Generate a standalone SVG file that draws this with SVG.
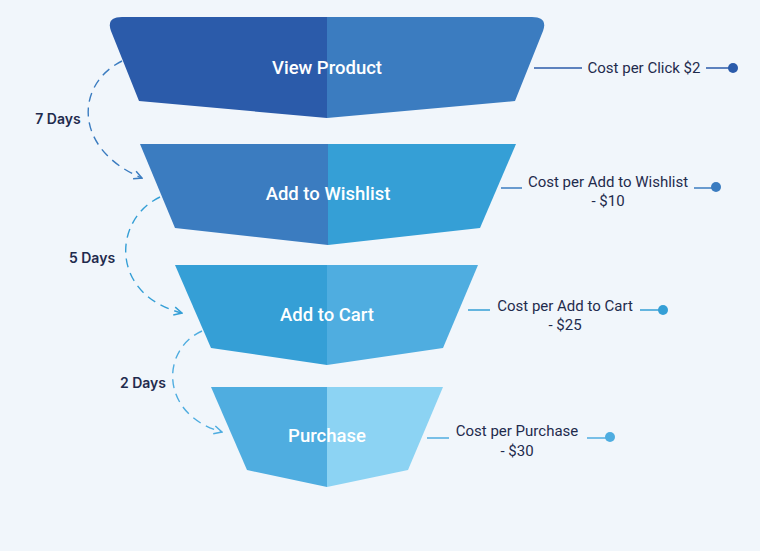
<svg xmlns="http://www.w3.org/2000/svg" width="760" height="551" viewBox="0 0 760 551">
<defs>
<style>
.stage{font-family:Roboto,"Liberation Sans",sans-serif;font-size:18.5px;font-weight:500;fill:#ffffff;text-anchor:middle}
.cost{font-family:Roboto,"Liberation Sans",sans-serif;font-size:15px;fill:#1F2B4D;text-anchor:middle}
.days{font-family:Inter,"Liberation Sans",sans-serif;font-size:14px;font-weight:600;fill:#1F2B4D;text-anchor:middle}
.dash{fill:none;stroke-width:1.4;stroke-dasharray:9 6}
.lead{stroke-width:1.5;fill:none}
</style>
<marker id="arr1" viewBox="0 0 10 10" refX="9" refY="5" markerWidth="10" markerHeight="10" markerUnits="userSpaceOnUse" orient="auto"><path d="M1,1 L9,5 L1,9" fill="none" stroke="#3B7CC0" stroke-width="1.5"/></marker>
<marker id="arr2" viewBox="0 0 10 10" refX="9" refY="5" markerWidth="10" markerHeight="10" markerUnits="userSpaceOnUse" orient="auto"><path d="M1,1 L9,5 L1,9" fill="none" stroke="#359FD6" stroke-width="1.5"/></marker>
<marker id="arr3" viewBox="0 0 10 10" refX="9" refY="5" markerWidth="10" markerHeight="10" markerUnits="userSpaceOnUse" orient="auto"><path d="M1,1 L9,5 L1,9" fill="none" stroke="#4FADE0" stroke-width="1.5"/></marker>
</defs>
<rect width="760" height="551" fill="#F1F6FB"/>

<g id="view-product">
<path d="M327,17 H122 Q106,17 111,31 L139,101 L327,118 Z" fill="#2B5BAA"/>
<path d="M327,17 H532 Q548,17 543,31 L515,101 L327,118 Z" fill="#3B7CC0"/>
<text class="stage" x="327" y="74">View Product</text>
</g>
<g id="add-to-wishlist">
<path d="M328,144 H140 L175,228 L328,245 Z" fill="#3B7CC0"/>
<path d="M328,144 H516 L480,228 L328,245 Z" fill="#359FD6"/>
<text class="stage" x="328" y="200">Add to Wishlist</text>
</g>
<g id="add-to-cart">
<path d="M327,265 H175 L211,348 L327,365 Z" fill="#359FD6"/>
<path d="M327,265 H478 L443,348 L327,365 Z" fill="#4FADE0"/>
<text class="stage" x="327" y="321">Add to Cart</text>
</g>
<g id="purchase">
<path d="M327,387 H211 L247,470 L327,487 Z" fill="#4FADE0"/>
<path d="M327,387 H443 L408,470 L327,487 Z" fill="#8CD3F3"/>
<text class="stage" x="327" y="442">Purchase</text>
</g>

<g id="cost-click">
<line class="lead" x1="534" y1="68" x2="582" y2="68" stroke="#2B5BAA"/>
<text class="cost" x="644" y="73">Cost per Click $2</text>
<line class="lead" x1="706" y1="68" x2="730" y2="68" stroke="#2B5BAA"/>
<circle cx="733" cy="68" r="5" fill="#2B5BAA"/>
</g>
<g id="cost-wishlist">
<line class="lead" x1="501" y1="188" x2="522" y2="188" stroke="#3B7CC0"/>
<text class="cost" x="608" y="187">Cost per Add to Wishlist</text>
<text class="cost" x="608" y="206">- $10</text>
<line class="lead" x1="694" y1="188" x2="713" y2="188" stroke="#3B7CC0"/>
<circle cx="716" cy="187" r="5" fill="#3B7CC0"/>
</g>
<g id="cost-cart">
<line class="lead" x1="468" y1="310" x2="490" y2="310" stroke="#359FD6"/>
<text class="cost" x="565" y="311">Cost per Add to Cart</text>
<text class="cost" x="565" y="330">- $25</text>
<line class="lead" x1="640" y1="310" x2="660" y2="310" stroke="#359FD6"/>
<circle cx="663" cy="310" r="5" fill="#359FD6"/>
</g>
<g id="cost-purchase">
<line class="lead" x1="427" y1="438" x2="449" y2="438" stroke="#4FADE0"/>
<text class="cost" x="517" y="436">Cost per Purchase</text>
<text class="cost" x="517" y="456">- $30</text>
<line class="lead" x1="587" y1="438" x2="607" y2="438" stroke="#4FADE0"/>
<circle cx="610" cy="437" r="5" fill="#4FADE0"/>
</g>

<g id="connectors">
<path class="dash" d="M122,61 C74,85 74,150 142,178" stroke="#3B7CC0" marker-end="url(#arr1)"/>
<path class="dash" d="M160,197 C112,220 110,295 182,313" stroke="#359FD6" marker-end="url(#arr2)"/>
<path class="dash" d="M202,331 C160,350 160,415 222,432" stroke="#4FADE0" marker-end="url(#arr3)"/>
</g>
<g id="day-labels">
<text class="days" x="58" y="124">7 Days</text>
<text class="days" x="92" y="263">5 Days</text>
<text class="days" x="143" y="388">2 Days</text>
</g>
</svg>
